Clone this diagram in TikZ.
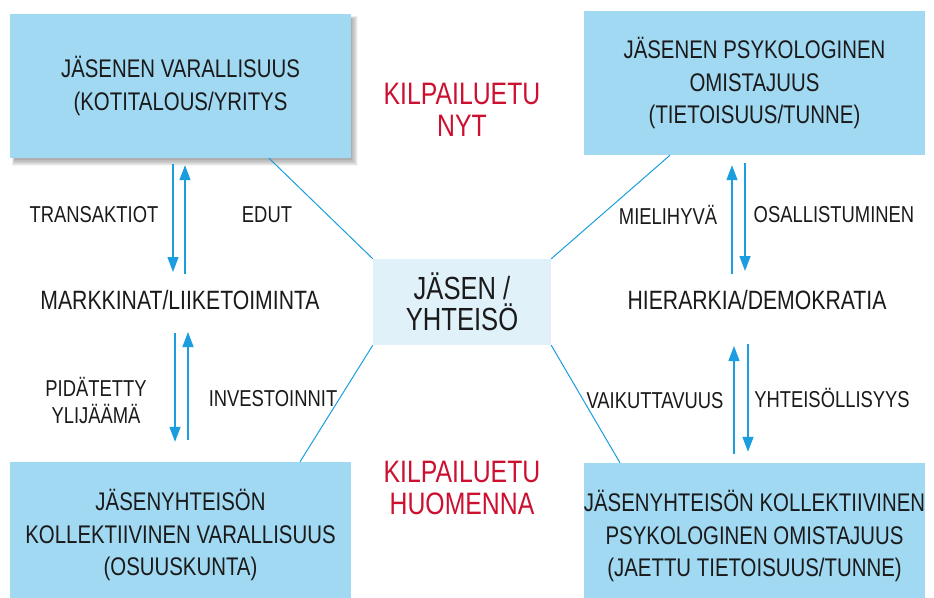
\documentclass[tikz,border=0pt]{standalone}
\usepackage{fontspec}
\setmainfont[FakeStretch=0.8]{Liberation Sans}
\usetikzlibrary{arrows.meta,calc}
\definecolor{boxblue}{HTML}{A2D9F2}
\definecolor{ctrblue}{HTML}{E0F1FA}
\definecolor{lineblue}{HTML}{1A9EE0}
\definecolor{redtxt}{HTML}{CC1030}
\definecolor{txt}{HTML}{1A1A1A}
\begin{document}
\begin{tikzpicture}[x=1pt,y=-1pt,
  bigbox/.style={fill=boxblue,draw=none,minimum width=341pt,inner sep=0pt,align=center,text=txt,
    font=\fontsize{25.5}{32.5}\selectfont},
  ctrbox/.style={fill=ctrblue,draw=none,minimum width=178pt,minimum height=86pt,inner sep=0pt,align=center,text=txt,
    font=\fontsize{32}{31}\selectfont},
  lbl/.style={inner sep=0pt,align=center,text=txt,font=\fontsize{23}{27}\selectfont},
  midlbl/.style={inner sep=0pt,align=center,text=txt,font=\fontsize{26.5}{27}\selectfont},
  redlbl/.style={inner sep=0pt,align=center,text=redtxt,font=\fontsize{31}{31.5}\selectfont},
  flow/.style={draw=lineblue,line width=1.3pt,-{Triangle[width=11pt,length=15pt]}},
  link/.style={draw=lineblue,line width=1pt}]
\clip (0,0) rectangle (934,597);
\fill[white] (0,0) rectangle (934,597);
% shadow of the top-left box
\foreach \i in {0,...,9}{
  \fill[black,opacity=0.035] (12+\i*0.3,16+\i*0.3) rectangle (358-\i*0.7,166-\i*0.7);
}
\node[bigbox,minimum height=144pt] (tl) at (180.5,86) {JÄSENEN VARALLISUUS\\(KOTITALOUS/YRITYS};
\node[bigbox,minimum height=144pt] (tr) at (754.5,83) {JÄSENEN PSYKOLOGINEN\\OMISTAJUUS\\(TIETOISUUS/TUNNE)};
\node[bigbox,minimum height=146pt] (bl) at (180.5,535) {JÄSENYHTEISÖN\\KOLLEKTIIVINEN VARALLISUUS\\(OSUUSKUNTA)};
\node[bigbox,minimum height=146pt] (br) at (754.5,536) {JÄSENYHTEISÖN KOLLEKTIIVINEN\\PSYKOLOGINEN OMISTAJUUS\\(JAETTU TIETOISUUS/TUNNE)};
\node[ctrbox] (ctr) at (462,302) {JÄSEN /\\YHTEISÖ};

\node[redlbl] (now) at (462,110) {KILPAILUETU\\NYT};
\node[redlbl] (tom) at (462,488) {KILPAILUETU\\HUOMENNA};

\node[midlbl] (mk) at (180,300) {MARKKINAT/LIIKETOIMINTA};
\node[midlbl] (hd) at (757,300) {HIERARKIA/DEMOKRATIA};
\node[lbl] (tra) at (94,215) {TRANSAKTIOT};
\node[lbl] (edu) at (267,215) {EDUT};
\node[lbl] (pid) at (96,400) {PIDÄTETTY\\YLIJÄÄMÄ};
\node[lbl] (inv) at (273,399) {INVESTOINNIT};
\node[lbl] (mie) at (668,215) {MIELIHYVÄ};
\node[lbl] (osa) at (834,215) {OSALLISTUMINEN};
\node[lbl] (vai) at (655,401) {VAIKUTTAVUUS};
\node[lbl] (yht) at (832,398) {YHTEISÖLLISYYS};

% connectors to the centre
\draw[link] ([xshift=88.5pt]tl.south) -- (ctr.north west);
\draw[link] ([xshift=-84.5pt]tr.south) -- (ctr.north east);
\draw[link] ([xshift=119.5pt]bl.north) -- (ctr.south west);
\draw[link] ([xshift=-134.5pt]br.north) -- (ctr.south east);

% flows, left
\draw[flow] ($(tl.south)+(-7.5,6)$) -- ($(mk)+(-7,-28)$);
\draw[flow] ($(mk)+(5,-26)$) -- ($(tl.south)+(4.5,7)$);
\draw[flow] ($(mk)+(-5,33)$) -- ($(bl.north)+(-5.5,-20)$);
\draw[flow] ($(bl.north)+(7.5,-22)$) -- ($(mk)+(8,32)$);
% flows, right
\draw[flow] ($(hd)+(-25,-26)$) -- ($(tr.south)+(-22.5,10)$);
\draw[flow] ($(tr.south)+(-9.5,8)$) -- ($(hd)+(-12,-29)$);
\draw[flow] ($(br.north)+(-20.5,-9)$) -- ($(hd)+(-23,46)$);
\draw[flow] ($(hd)+(-9,44)$) -- ($(br.north)+(-6.5,-11)$);
\end{tikzpicture}
\end{document}
